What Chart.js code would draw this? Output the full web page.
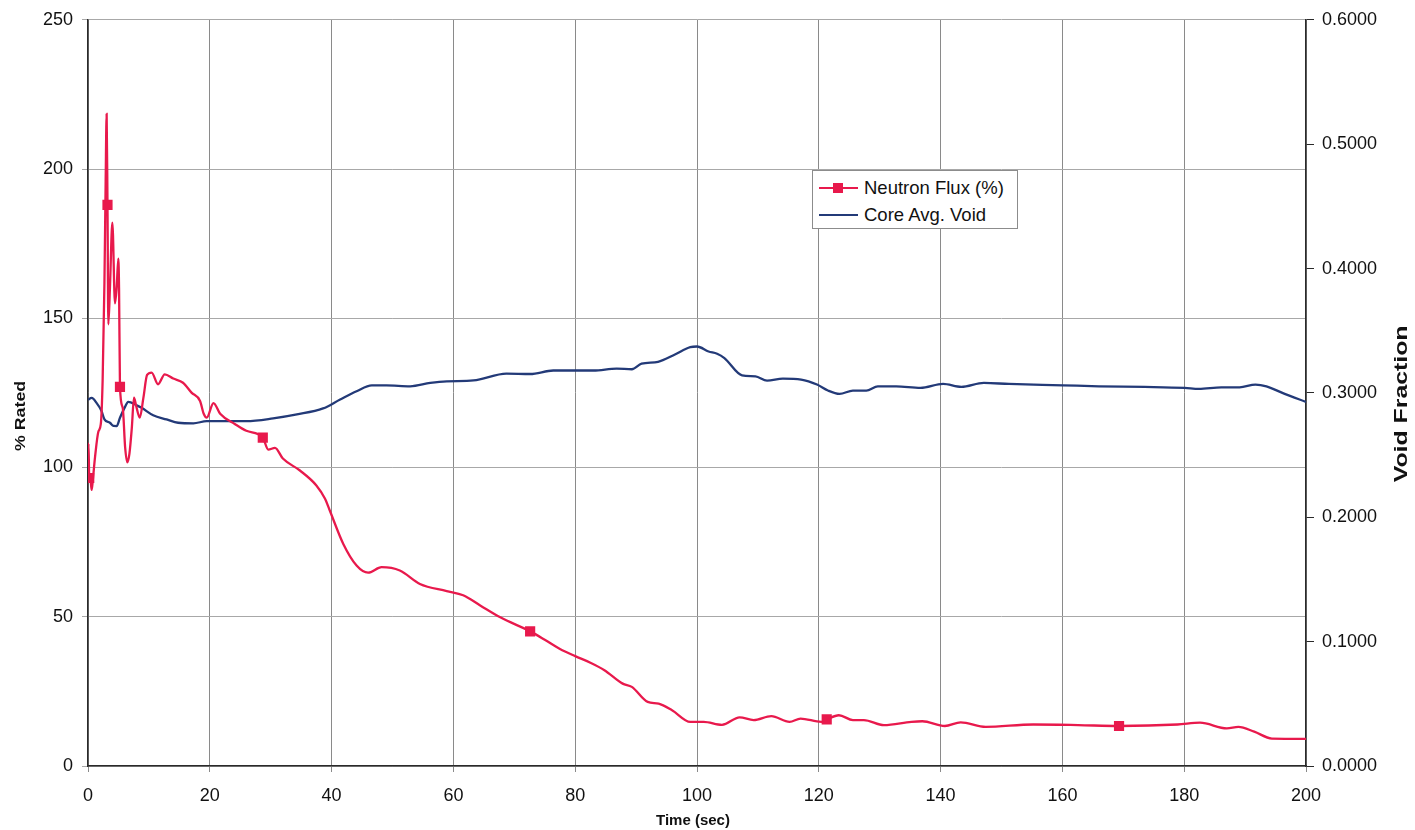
<!DOCTYPE html>
<html>
<head>
<meta charset="utf-8">
<title>Neutron Flux and Core Average Void</title>
<script src="https://cdn.jsdelivr.net/npm/chart.js@4.4.1/dist/chart.umd.min.js"></script>
<style>
  html, body { margin: 0; padding: 0; background: #ffffff; }
  #wrap { position: relative; width: 1415px; height: 830px; }
  #legend {
    position: absolute; left: 812px; top: 170px; width: 206px; height: 59px;
    box-sizing: border-box; border: 1px solid #8c8c8c; background: #ffffff;
    font-family: "Liberation Sans", Arial, sans-serif; font-size: 18.5px; color: #111;
  }
  .row { position: absolute; left: 0; height: 24px; line-height: 24px; white-space: nowrap; }
  .sw { position: absolute; left: 6px; top: 11px; width: 39px; height: 2px; }
  .mk { position: absolute; left: 14px; top: -4px; width: 10px; height: 10px; }
  .tx { position: absolute; left: 51px; top: 0; }
</style>
</head>
<body>
<div id="wrap">
  <canvas id="chart" width="1415" height="830"></canvas>
  <div id="legend"></div>
</div>
<script>
// Neutron flux, % of rated power, against time (s)
const fluxTime = [
  0, 0.08, 0.2, 0.45, 0.6, 0.8, 1.15, 1.7, 2.1, 2.4, 2.7, 2.9, 3.06, 3.2, 3.34, 3.6, 4.0,
  4.43, 4.7, 4.98, 5.1, 5.25, 5.7, 6.1, 6.45, 6.8, 7.2, 7.55, 7.9, 8.5, 9.1, 9.7, 10.45,
  11.5, 12.6, 14.0, 15.6, 17.0, 18.4, 19.0, 19.5, 20.6, 21.7, 24.1, 26.0, 28.7, 29.6, 30.7,
  32.0, 34.8, 37.5, 38.9, 39.7, 41.9, 44.1, 46.0, 48.2, 51.2, 54.5, 58.9, 61.6, 64.4, 67.7,
  72.6, 75.0, 77.5, 80.0, 82.5, 84.8, 87.8, 89.3, 91.9, 93.7, 95.9, 98.9, 101.1, 104.1,
  107.0, 109.3, 112.2, 115.2, 117.0, 120.4, 121.3, 123.3, 125.6, 127.4, 130.7, 135.2,
  137.0, 140.7, 143.3, 147.4, 155.2, 162.6, 169.3, 178.9, 182.6, 187.0, 188.9, 191.5,
  194.4, 200
];
const fluxValue = [
  100, 108, 96.5, 95, 92.5, 96, 103.4, 112, 114.5, 129, 162, 196, 218.5, 188, 148, 160, 182,
  155, 160, 170, 160, 127, 120, 106.7, 101.7, 104.6, 113.4, 123.4, 120.7, 116.7, 123.4, 131, 131.8,
  127.9, 131.2, 129.8, 128.4, 125.1, 122.3, 118, 116.7, 121.6, 118, 114.6, 112.3, 110, 106, 106.6,
  103, 99, 94, 89.6, 85.6, 74.5, 67.2, 64.8, 66.6, 65.5, 61, 58.6, 57.2, 53.8, 49.8,
  45.1, 42.3, 39.2, 36.8, 34.6, 32.1, 27.6, 26.5, 21.5, 20.9, 18.7, 14.8, 14.8, 13.8,
  16.3, 15.4, 16.7, 14.8, 15.9, 14.8, 15.6, 17, 15.4, 15.4, 13.7, 14.8,
  15, 13.4, 14.6, 13.1, 13.9, 13.7, 13.4, 13.9, 14.5, 12.6, 13.1, 11.5,
  9.2, 9.1
];
// Samples of the flux trace that carry a square marker
const fluxMarkerTime = [0.2, 3.2, 5.25, 28.7, 72.6, 121.3, 169.3];

// Core average void fraction against time (s)
const voidTime = [
  0, 0.6, 1.4, 2.2, 2.7, 3.6, 4.2, 4.7, 5.25, 6.1, 6.6, 8.0, 8.8, 10.7, 12.9, 14.8, 17.3,
  19.5, 26.0, 30.4, 34.3, 38.6, 41.4, 44.1, 46.6, 49.0, 52.9, 56.2, 58.9, 63.3, 68.7, 72.6,
  76.4, 83.0, 86.8, 89.3, 90.9, 93.6, 96.3, 98.9, 100.0, 101.9, 103.3, 104.5, 107.4, 109.6,
  111.5, 114.1, 117.1, 119.7, 121.5, 123.4, 125.6, 127.8, 129.7, 132.7, 136.7, 140.4, 143.4,
  147.1, 151.2, 160.1, 166.0, 173.5, 180.1, 182.4, 186.1, 189.1, 191.7, 193.5, 196.5, 200
];
const voidValue = [
  0.2946, 0.2960, 0.2920, 0.2856, 0.2787, 0.2760, 0.2734, 0.2733, 0.2800, 0.2890, 0.2928,
  0.2900, 0.2880, 0.2820, 0.2787, 0.2760, 0.2755, 0.2773, 0.2773, 0.2795, 0.2827, 0.2875,
  0.2947, 0.3013, 0.3060, 0.3060, 0.3053, 0.3080, 0.3093, 0.3100, 0.3155, 0.3152, 0.3180,
  0.3180, 0.3195, 0.3190, 0.3235, 0.3250, 0.3307, 0.3368, 0.3373, 0.3333, 0.3315, 0.3280,
  0.3141, 0.3133, 0.3099, 0.3115, 0.3107, 0.3067, 0.3019, 0.2992, 0.3019, 0.3019, 0.3053,
  0.3053, 0.3040, 0.3072, 0.3048, 0.3080, 0.3072, 0.3061, 0.3053, 0.3048, 0.3040, 0.3032,
  0.3045, 0.3045, 0.3067, 0.3053, 0.2992, 0.2928
];

const seriesNames = ['Neutron Flux (%)', 'Core Avg. Void'];
const xTitle = 'Time (sec)';
const yTitle = '% Rated';
const y2Title = 'Void Fraction';

const FONT = '"Liberation Sans", Arial, sans-serif';
const RED = '#e8194c';
const NAVY = '#233a78';

const toPoints = (xs, ys) => xs.map((x, i) => ({ x, y: ys[i] }));

// Axis titles; the vertical ones are drawn stretched along their length
const axisTitles = {
  id: 'axisTitles',
  afterDraw(chart) {
    const { ctx, chartArea: a } = chart;
    ctx.save();
    ctx.fillStyle = '#111';
    ctx.textAlign = 'center';
    ctx.textBaseline = 'middle';
    ctx.font = 'bold 15px ' + FONT;
    ctx.fillText(xTitle, (a.left + a.right) / 2 - 4, a.bottom + 55);

    ctx.save();
    ctx.translate(21, (a.top + a.bottom) / 2 + 23);
    ctx.rotate(-Math.PI / 2);
    ctx.scale(1.27, 1);
    ctx.font = 'bold 14px ' + FONT;
    ctx.fillText(yTitle, 0, 0);
    ctx.restore();

    ctx.save();
    ctx.translate(a.right + 96, (a.top + a.bottom) / 2 + 11);
    ctx.rotate(-Math.PI / 2);
    ctx.scale(1.38, 1);
    ctx.font = 'bold 18px ' + FONT;
    ctx.fillText(y2Title, 0, 0);
    ctx.restore();
    ctx.restore();
  }
};

const chart = new Chart(document.getElementById('chart'), {
  type: 'line',
  data: {
    datasets: [
      {
        label: seriesNames[0],
        data: toPoints(fluxTime, fluxValue),
        yAxisID: 'y',
        borderColor: RED,
        backgroundColor: RED,
        borderWidth: 2.3,
        cubicInterpolationMode: 'monotone',
        pointStyle: 'rect',
        pointRadius: ctx => fluxMarkerTime.includes(fluxTime[ctx.dataIndex]) ? 7.2 : 0,
        pointBorderWidth: 0,
        order: 1
      },
      {
        label: seriesNames[1],
        data: toPoints(voidTime, voidValue),
        yAxisID: 'y2',
        borderColor: NAVY,
        backgroundColor: NAVY,
        borderWidth: 2.3,
        cubicInterpolationMode: 'monotone',
        pointRadius: 0,
        order: 2
      }
    ]
  },
  options: {
    responsive: false,
    animation: false,
    devicePixelRatio: 1,
    layout: { padding: { top: 18, left: 0, right: 0, bottom: 0 } },
    plugins: { legend: { display: false }, tooltip: { enabled: false } },
    scales: {
      x: {
        type: 'linear', min: 0, max: 200,
        ticks: { stepSize: 20, color: '#111', font: { family: FONT, size: 18 }, padding: 13, maxRotation: 0 },
        grid: { color: '#8a8a8a', lineWidth: 1, tickLength: 6, drawTicks: true },
        border: { display: true, color: '#2a2a2a', width: 1.5 },
        afterFit: s => { s.height = 64; }
      },
      y: {
        type: 'linear', position: 'left', min: 0, max: 250,
        ticks: { stepSize: 50, color: '#111', font: { family: FONT, size: 18 }, padding: 9 },
        grid: { color: '#a8a8a8', lineWidth: 1, tickLength: 6 },
        border: { display: true, color: '#2a2a2a', width: 1.5 },
        afterFit: s => { s.width = 88; }
      },
      y2: {
        type: 'linear', position: 'right', min: 0, max: 0.6,
        ticks: { stepSize: 0.1, color: '#111', font: { family: FONT, size: 18 }, padding: 8,
                 callback: v => Number(v).toFixed(4) },
        grid: { drawOnChartArea: false, color: '#2a2a2a', tickLength: 8 },
        border: { display: true, color: '#2a2a2a', width: 1.5 },
        afterFit: s => { s.width = 109; }
      }
    }
  },
  plugins: [axisTitles]
});

// Legend box built from the datasets
const legend = document.getElementById('legend');
chart.data.datasets.forEach((ds, i) => {
  const row = document.createElement('div');
  row.className = 'row';
  row.style.top = (5 + i * 27) + 'px';
  const sw = document.createElement('span');
  sw.className = 'sw';
  sw.style.background = ds.borderColor;
  if (i === 0) {
    const mk = document.createElement('span');
    mk.className = 'mk';
    mk.style.background = ds.borderColor;
    sw.appendChild(mk);
  }
  const tx = document.createElement('span');
  tx.className = 'tx';
  tx.textContent = ds.label;
  row.appendChild(sw);
  row.appendChild(tx);
  legend.appendChild(row);
});
</script>
</body>
</html>
